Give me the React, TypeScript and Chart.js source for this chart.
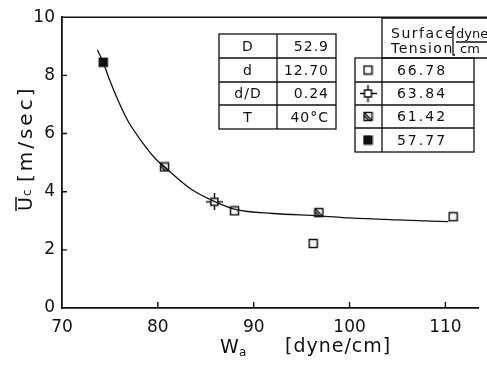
import React, { useEffect, useRef } from "react";
import { Chart, registerables } from "chart.js";

Chart.register(...registerables);

// ---- data ----
const xTicks = [70, 80, 90, 100, 110];
const yTicks = [0, 2, 4, 6, 8, 10];

const openX = [88.0, 96.2, 110.8];
const openY = [3.34, 2.22, 3.14];
const crossX = [85.9];
const crossY = [3.65];
const hatchX = [80.7, 96.8];
const hatchY = [4.85, 3.28];
const filledX = [74.3];
const filledY = [8.45];

const curveX = [73.7, 74.3, 74.9, 75.9, 76.9, 78.3, 79.7, 80.7, 83.4, 86.0, 88.2, 92.0, 96.8, 100, 105, 110.3];
const curveY = [8.87, 8.45, 7.9, 7.1, 6.42, 5.73, 5.15, 4.85, 4.1, 3.65, 3.38, 3.25, 3.17, 3.1, 3.03, 2.97];

const paramLabels = ["D", "d", "d/D", "T"];
const paramValues = ["52.9", "12.70", "0.24", "40°C"];
const tensionValues = ["66.78", "63.84", "61.42", "57.77"];
const tensionKinds = ["open", "cross", "hatch", "filled"];

const pts = (xs: number[], ys: number[]) => xs.map((x, i) => ({ x, y: ys[i] }));

function makeMarker(kind: string): HTMLCanvasElement {
  const c = document.createElement("canvas");
  const S = kind === "cross" ? 17 : 11;
  c.width = S;
  c.height = S;
  const g = c.getContext("2d")!;
  const m = S / 2;
  const h = kind === "cross" ? 3.5 : 4;
  g.lineWidth = 1.5;
  g.strokeStyle = "#111";
  g.fillStyle = kind === "filled" ? "#111" : "#fff";
  g.fillRect(m - h, m - h, 2 * h, 2 * h);
  g.strokeRect(m - h, m - h, 2 * h, 2 * h);
  if (kind === "hatch") {
    g.beginPath();
    g.moveTo(m - h, m - h);
    g.lineTo(m + h, m + h);
    g.moveTo(m - h, m - h + 3);
    g.lineTo(m + h - 3, m + h);
    g.stroke();
  }
  if (kind === "cross") {
    g.beginPath();
    g.moveTo(m, 0);
    g.lineTo(m, m - h);
    g.moveTo(m, m + h);
    g.lineTo(m, S);
    g.moveTo(0, m);
    g.lineTo(m - h, m);
    g.moveTo(m + h, m);
    g.lineTo(S, m);
    g.stroke();
  }
  return c;
}

const FONT = "DejaVu Sans";

const decorPlugin = {
  id: "decor",
  afterDraw(chart: any, _args: any, opts: any) {
    const ctx: CanvasRenderingContext2D = chart.ctx;
    const { left, top, bottom } = chart.chartArea;
    const xs = chart.scales.x;
    const ys = chart.scales.y;
    const markers = opts.markers;
    ctx.save();
    ctx.strokeStyle = "#111";
    ctx.fillStyle = "#111";
    ctx.lineWidth = 1.6;
    // top frame line
    ctx.beginPath();
    ctx.moveTo(left, top);
    ctx.lineTo(chart.width, top);
    ctx.stroke();
    // inner ticks
    ctx.lineWidth = 1.4;
    ctx.beginPath();
    xTicks.slice(1).forEach((v) => {
      const p = xs.getPixelForValue(v);
      ctx.moveTo(p, bottom);
      ctx.lineTo(p, bottom - 6);
    });
    yTicks.slice(1, -1).forEach((v) => {
      const p = ys.getPixelForValue(v);
      ctx.moveTo(left, p);
      ctx.lineTo(left + 5, p);
    });
    ctx.stroke();

    // x title
    ctx.textBaseline = "alphabetic";
    ctx.textAlign = "left";
    ctx.font = `19px ${FONT}`;
    ctx.fillText("W", 220, 353);
    ctx.font = `12px ${FONT}`;
    ctx.fillText("a", 239, 356);
    ctx.font = `19px ${FONT}`;
    (ctx as any).letterSpacing = "1px";
    ctx.fillText("[dyne/cm]", 285, 352);
    (ctx as any).letterSpacing = "0px";

    // y title (rotated)
    ctx.save();
    ctx.translate(32, 211);
    ctx.rotate(-Math.PI / 2);
    ctx.font = `19px ${FONT}`;
    ctx.fillText("U", 0, 0);
    const uw = ctx.measureText("U").width;
    ctx.lineWidth = 1.5;
    ctx.beginPath();
    ctx.moveTo(0, -16);
    ctx.lineTo(uw, -16);
    ctx.stroke();
    ctx.font = `12px ${FONT}`;
    ctx.fillText("c", uw + 1, -1);
    ctx.font = `20px ${FONT}`;
    (ctx as any).letterSpacing = "3px";
    ctx.fillText("[m/sec]", uw + 15, 0);
    (ctx as any).letterSpacing = "0px";
    ctx.restore();

    // parameter table
    ctx.lineWidth = 1.3;
    const t1x = [219, 277, 336];
    const t1y = [34, 58, 82, 105, 129];
    ctx.strokeRect(t1x[0], t1y[0], t1x[2] - t1x[0], t1y[4] - t1y[0]);
    ctx.beginPath();
    ctx.moveTo(t1x[1], t1y[0]);
    ctx.lineTo(t1x[1], t1y[4]);
    for (let i = 1; i < 4; i++) {
      ctx.moveTo(t1x[0], t1y[i]);
      ctx.lineTo(t1x[2], t1y[i]);
    }
    ctx.stroke();
    ctx.font = `14px ${FONT}`;
    (ctx as any).letterSpacing = "1px";
    ctx.textBaseline = "middle";
    paramLabels.forEach((s, i) => {
      const cy = (t1y[i] + t1y[i + 1]) / 2 + 1;
      ctx.textAlign = "center";
      ctx.fillText(s, (t1x[0] + t1x[1]) / 2, cy);
      ctx.textAlign = "right";
      ctx.fillText(paramValues[i], t1x[2] - 7, cy);
    });

    // surface tension table
    const hx = 382;
    ctx.beginPath();
    ctx.moveTo(hx, 58);
    ctx.lineTo(hx, 18);
    ctx.lineTo(chart.width, 18);
    ctx.stroke();
    const t2x = [355, 382, 474];
    const t2y = [58, 82, 105, 128, 152];
    ctx.strokeRect(t2x[0], t2y[0], t2x[2] - t2x[0], t2y[4] - t2y[0]);
    ctx.beginPath();
    ctx.moveTo(hx, 58);
    ctx.lineTo(chart.width, 58);
    ctx.moveTo(t2x[1], t2y[0]);
    ctx.lineTo(t2x[1], t2y[4]);
    for (let i = 1; i < 4; i++) {
      ctx.moveTo(t2x[0], t2y[i]);
      ctx.lineTo(t2x[2], t2y[i]);
    }
    ctx.stroke();
    ctx.textAlign = "left";
    ctx.textBaseline = "alphabetic";
    ctx.font = `14px ${FONT}`;
    (ctx as any).letterSpacing = "1.5px";
    ctx.fillText("Surface", 391, 38);
    ctx.fillText("Tension", 391, 53);
    (ctx as any).letterSpacing = "0px";
    ctx.font = `13px ${FONT}`;
    ctx.fillText("dyne", 456, 38);
    ctx.fillText("cm", 460, 53);
    ctx.beginPath();
    ctx.moveTo(456, 42);
    ctx.lineTo(487, 42);
    ctx.moveTo(455, 27);
    ctx.lineTo(453, 27);
    ctx.lineTo(453, 55);
    ctx.lineTo(455, 55);
    ctx.stroke();
    ctx.font = `14px ${FONT}`;
    (ctx as any).letterSpacing = "2px";
    ctx.textBaseline = "middle";
    tensionValues.forEach((s, i) => {
      const cy = (t2y[i] + t2y[i + 1]) / 2 + 1;
      ctx.textAlign = "center";
      ctx.fillText(s, 422, cy);
      const mk = markers[tensionKinds[i]];
      ctx.drawImage(mk, 368 - mk.width / 2, cy - 1 - mk.height / 2);
    });
    ctx.restore();
  },
};

export default function App() {
  const ref = useRef<HTMLCanvasElement>(null);
  useEffect(() => {
    document.body.style.margin = "0";
    const markers: Record<string, HTMLCanvasElement> = {
      open: makeMarker("open"),
      cross: makeMarker("cross"),
      hatch: makeMarker("hatch"),
      filled: makeMarker("filled"),
    };
    const chart = new Chart(ref.current!, {
      type: "scatter",
      data: {
        datasets: [
          {
            label: "curve",
            data: pts(curveX, curveY),
            showLine: true,
            borderColor: "#111",
            borderWidth: 1.3,
            pointRadius: 0,
            cubicInterpolationMode: "monotone",
          } as any,
          { label: "66.78", data: pts(openX, openY), pointStyle: markers.open, pointRadius: 5 },
          { label: "63.84", data: pts(crossX, crossY), pointStyle: markers.cross, pointRadius: 8 },
          { label: "61.42", data: pts(hatchX, hatchY), pointStyle: markers.hatch, pointRadius: 5 },
          { label: "57.77", data: pts(filledX, filledY), pointStyle: markers.filled, pointRadius: 5 },
        ],
      },
      options: {
        animation: false,
        responsive: false,
        layout: { padding: { top: 15, right: 0, left: 0, bottom: 0 } },
        plugins: {
          legend: { display: false },
          tooltip: { enabled: false },
          decor: { markers },
        } as any,
        scales: {
          x: {
            type: "linear",
            min: 70,
            max: 113.4,
            afterBuildTicks: (s: any) => {
              s.ticks = xTicks.map((v) => ({ value: v }));
            },
            afterFit: (s: any) => {
              s.height = 61;
            },
            grid: { display: false, drawTicks: false },
            border: { display: true, color: "#111", width: 1.8 },
            ticks: { padding: 9, color: "#111", font: { family: FONT, size: 17 } },
          },
          y: {
            type: "linear",
            min: 0,
            max: 10,
            afterBuildTicks: (s: any) => {
              s.ticks = yTicks.map((v) => ({ value: v }));
            },
            afterFit: (s: any) => {
              s.width = 62;
            },
            grid: { display: false, drawTicks: false },
            border: { display: true, color: "#111", width: 1.8 },
            ticks: { padding: 7, color: "#111", font: { family: FONT, size: 17 } },
          },
        },
      },
      plugins: [decorPlugin],
    });
    return () => chart.destroy();
  }, []);
  return (
    <div style={{ width: 487, height: 369, background: "#fff" }}>
      <canvas ref={ref} width={487} height={369} />
    </div>
  );
}
